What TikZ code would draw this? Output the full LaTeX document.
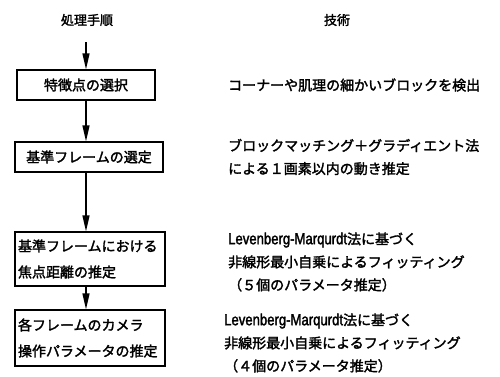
\documentclass[tikz,border=0pt]{standalone}
\usepackage{fontspec}
\setmainfont{Noto Sans CJK JP}[FakeBold=2]
\newfontfamily\lat{Liberation Sans}[FakeStretch=0.82,FakeBold=2]
\usetikzlibrary{arrows.meta}
\newcommand{\LM}{{\lat\fontsize{16}{23}\selectfont Levenberg-Marqurdt}}
\begin{document}
\begin{tikzpicture}[x=1pt,y=-1pt,
  box/.style={draw, line width=1.3pt, inner sep=0pt, font=\fontsize{14}{26}\selectfont},
  arr/.style={line width=1.4pt, -{Triangle[width=7pt,length=16pt]}},
  desc/.style={anchor=west, align=left, inner sep=0pt, font=\fontsize{14}{23}\selectfont},
  head/.style={inner sep=0pt, font=\fontsize{13}{13}\selectfont}]
\useasboundingbox (0,0) rectangle (500,376);
\node[head] (h1) at (87,20) {処理手順};
\node[head] (h2) at (337,20) {技術};
\coordinate (s) at (86,42);
\node[box, minimum width=138, minimum height=30] (b1) at (86,85) {特徴点の選択};
\node[box, minimum width=148, minimum height=30] (b2) at (89,157) {基準フレームの選定};
\node[box, minimum width=150, minimum height=54, text width=144, align=left] (b3) at (90,259) {基準フレームにおける\\焦点距離の推定};
\node[box, minimum width=150, minimum height=56, text width=144, align=left] (b4) at (90,338) {各フレームのカメラ\\操作パラメータの推定};
\draw[arr] (s) -- (s |- b1.north);
\draw[arr] (s |- b1.south) -- (s |- b2.north);
\draw[arr] (s |- b2.south) -- (s |- b3.north);
\draw[arr] (s |- b3.south) -- (s |- b4.north);
\node[desc] (t1) at (228,85) {コーナーや肌理の細かいブロックを検出};
\node[desc] (t2) at (228,157) {ブロックマッチング＋グラディエント法\\による１画素以内の動き推定};
\node[desc] (t3) at (228,262) {\LM 法に基づく\\非線形最小自乗によるフィッティング\\（５個のパラメータ推定）};
\node[desc] (t4) at (224,343) {\LM 法に基づく\\非線形最小自乗によるフィッティング\\（４個のパラメータ推定）};
\end{tikzpicture}
\end{document}
